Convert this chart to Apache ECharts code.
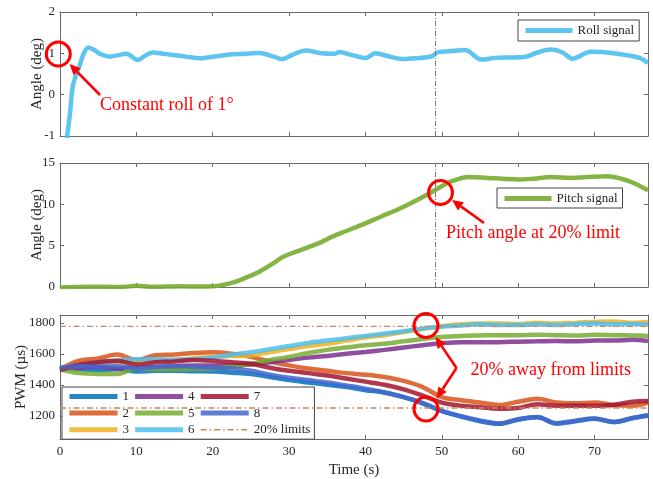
<!DOCTYPE html>
<html><head><meta charset="utf-8">
<script src="https://cdn.jsdelivr.net/npm/echarts@6/dist/echarts.min.js"></script>
<style>html,body{margin:0;padding:0;background:#fff}#c{width:653px;height:479px}</style>
</head><body><div id="c"></div>
<script>
// ---------------- DATA ----------------
const rollT = [0.9, 1.3, 1.65, 2.0, 2.6, 3.05, 3.7, 4.5, 5.2, 6.5, 7.5, 8.7, 10.2, 11.2, 12.2, 13.5, 14.8, 16.5, 18.3, 20.5, 22.6, 24.5, 26.1, 28.0, 29.1, 30.5, 32.2, 34.0, 35.9, 36.6, 38.0, 40.0, 41.3, 43.0, 44.8, 46.5, 48.7, 49.5, 51.0, 53.0, 55.2, 57.0, 59.0, 60.8, 62.5, 64.3, 65.8, 67.1, 69.5, 71.0, 73.0, 75.0, 76.0, 77.0];
const rollV = [-1.05, -0.47, 0.18, 0.42, 0.72, 0.97, 1.14, 1.08, 0.99, 0.92, 0.95, 0.99, 0.84, 0.95, 1.02, 0.99, 0.96, 0.92, 0.88, 0.93, 0.98, 0.99, 1.01, 0.92, 0.86, 0.97, 1.07, 1.01, 0.99, 1.03, 0.97, 0.89, 1.0, 0.93, 0.86, 0.88, 0.93, 1.03, 1.05, 1.08, 0.85, 0.89, 0.90, 0.91, 1.02, 1.09, 1.02, 0.87, 1.04, 1.03, 0.99, 0.93, 0.88, 0.77];

const pitchT = [0, 2, 4, 6, 8, 10, 12, 14, 16, 18, 20, 21, 22.6, 24, 26.1, 28, 29.1, 31, 33.9, 35.2, 37, 40, 42, 44.3, 46.5, 48.7, 50, 51.3, 53.5, 56, 58, 60, 62, 64.3, 67, 69, 71.7, 73.5, 74.8, 76, 77];
const pitchV = [-0.05, 0, 0.02, 0.02, 0, 0.15, 0.02, 0.05, 0.08, 0.05, 0.08, 0.2, 0.52, 1.0, 1.85, 2.9, 3.6, 4.3, 5.3, 5.9, 6.6, 7.7, 8.5, 9.4, 10.4, 11.5, 12.2, 12.8, 13.3, 13.2, 13.1, 13.0, 13.1, 13.3, 13.2, 13.3, 13.4, 13.1, 12.7, 12.2, 11.7];

const pwmT = [0, 2.5, 5, 7.5, 10, 12.5, 15, 17.5, 20, 22.5, 25, 27.5, 30, 32.5, 35, 37.5, 40, 42.5, 45, 47.5, 50, 52.5, 55, 57.5, 60, 62.5, 65, 67.5, 70, 72.5, 75, 77];
const pwm1 = [1505, 1500, 1495, 1500, 1485, 1490, 1490, 1487, 1485, 1478, 1470, 1450, 1430, 1415, 1400, 1385, 1365, 1350, 1320, 1280, 1230, 1195, 1165, 1148, 1175, 1190, 1150, 1165, 1180, 1160, 1185, 1205];
const pwm2 = [1500, 1555, 1570, 1595, 1560, 1590, 1595, 1605, 1610, 1600, 1580, 1550, 1525, 1505, 1490, 1475, 1465, 1450, 1425, 1385, 1320, 1300, 1285, 1270, 1290, 1310, 1285, 1280, 1285, 1270, 1265, 1285];
const pwm3 = [1505, 1520, 1540, 1545, 1550, 1555, 1560, 1570, 1580, 1585, 1590, 1610, 1630, 1650, 1665, 1685, 1705, 1720, 1740, 1760, 1778, 1790, 1795, 1795, 1792, 1800, 1795, 1800, 1805, 1808, 1800, 1805];
const pwm4 = [1505, 1510, 1515, 1505, 1510, 1515, 1520, 1525, 1525, 1525, 1530, 1545, 1560, 1575, 1585, 1600, 1612, 1625, 1640, 1655, 1668, 1675, 1675, 1675, 1678, 1680, 1682, 1680, 1685, 1685, 1690, 1682];
const pwm5 = [1500, 1475, 1470, 1470, 1505, 1500, 1500, 1502, 1505, 1515, 1535, 1560, 1580, 1605, 1625, 1640, 1655, 1665, 1680, 1695, 1708, 1715, 1718, 1720, 1720, 1722, 1720, 1718, 1722, 1720, 1718, 1715];
const pwm6 = [1500, 1530, 1545, 1555, 1565, 1565, 1562, 1565, 1575, 1595, 1610, 1630, 1650, 1670, 1685, 1700, 1715, 1730, 1745, 1762, 1775, 1782, 1790, 1785, 1785, 1790, 1785, 1792, 1795, 1790, 1792, 1788];
const pwm7 = [1495, 1530, 1545, 1555, 1530, 1545, 1550, 1560, 1555, 1545, 1535, 1510, 1490, 1475, 1460, 1440, 1420, 1400, 1370, 1330, 1285, 1265, 1255, 1245, 1250, 1275, 1265, 1265, 1265, 1270, 1290, 1295];
const pwm8 = [1510, 1520, 1515, 1520, 1505, 1515, 1520, 1515, 1510, 1505, 1490, 1465, 1445, 1430, 1415, 1395, 1375, 1350, 1320, 1282, 1232, 1198, 1170, 1150, 1178, 1192, 1152, 1168, 1182, 1160, 1185, 1200];
const motorNames = ['1', '2', '3', '4', '5', '6', '7', '8'];
const limitUpper = 1776;
const limitLower = 1250;
const limitName = '20% limits';
const markerTime = 49.2;

const timeTicks = [0, 10, 20, 30, 40, 50, 60, 70];
const rollTicks = [-1, 0, 1, 2];
const pitchTicks = [0, 5, 10, 15];
const pwmTicks = [1200, 1400, 1600, 1800];

// ---------------- STYLE ----------------
const FONT = '"Liberation Serif", "Times New Roman", serif';
const AX = '#6a6a6a';
const TXT = '#262626';
const motorColors = ['#0072BD', '#D95319', '#EDB120', '#7E2F8E', '#77AC30', '#4DBEEE', '#A2142F', '#4466CC'];
const rollColor = '#4DBEEE';
const pitchColor = '#77AC30';
const limitColor = '#C8865A';
const dashDot = [6, 3, 1.5, 3];

const pairs = (t, v) => t.map((x, i) => [x, v[i]]);
const plain = v => String(v);

function xAx(grid, pos, labels, name) {
  return {
    type: 'value', gridIndex: grid, position: pos, min: 0, max: 77,
    name: name || '', nameLocation: 'middle', nameGap: 24, nameMoveOverlap: false,
    nameTextStyle: { fontFamily: FONT, fontSize: 15, color: TXT },
    axisLine: { show: true, onZero: false, lineStyle: { color: AX, width: 1 } },
    axisTick: { show: true, inside: true, length: 4, customValues: timeTicks, lineStyle: { color: AX } },
    axisLabel: { show: labels, customValues: timeTicks, formatter: plain, margin: 6, fontFamily: FONT, fontSize: 13, color: TXT },
    splitLine: { show: false }
  };
}
function yAx(grid, pos, labels, min, max, ticks, name, gap) {
  return {
    type: 'value', gridIndex: grid, position: pos, min: min, max: max,
    name: name || '', nameLocation: 'middle', nameGap: gap || 15, nameMoveOverlap: false,
    nameTextStyle: { fontFamily: FONT, fontSize: 15, color: TXT },
    axisLine: { show: true, onZero: false, lineStyle: { color: AX, width: 1 } },
    axisTick: { show: true, inside: true, length: 4, customValues: ticks, lineStyle: { color: AX } },
    axisLabel: { show: labels, customValues: ticks, formatter: plain, margin: 5, fontFamily: FONT, fontSize: 13, color: TXT },
    splitLine: { show: false }
  };
}

const vMark = {
  silent: true, symbol: ['none', 'none'], label: { show: false },
  lineStyle: { color: '#7a7a7a', width: 1, type: [5, 2, 1, 2] },
  data: [{ xAxis: markerTime }]
};

const series = [];
series.push({
  name: 'Roll signal', type: 'line', xAxisIndex: 0, yAxisIndex: 0, data: pairs(rollT, rollV),
  showSymbol: false, symbol: 'none', smooth: 0.35, color: rollColor,
  lineStyle: { width: 4.5, color: rollColor, opacity: 0.9 }, markLine: vMark
});
series.push({
  name: 'Pitch signal', type: 'line', xAxisIndex: 2, yAxisIndex: 2, data: pairs(pitchT, pitchV),
  showSymbol: false, symbol: 'none', smooth: 0.35, color: pitchColor,
  lineStyle: { width: 4.5, color: pitchColor, opacity: 0.9 }, markLine: vMark
});
const pwmAll = [pwm1, pwm2, pwm3, pwm4, pwm5, pwm6, pwm7, pwm8];
pwmAll.forEach((arr, i) => {
  series.push({
    name: motorNames[i], type: 'line', xAxisIndex: 4, yAxisIndex: 4, data: pairs(pwmT, arr),
    showSymbol: false, symbol: 'none', smooth: 0.35, color: motorColors[i],
    lineStyle: { width: 4.5, color: motorColors[i], opacity: 0.85 }
  });
});
[limitUpper, limitLower].forEach(L => {
  series.push({
    name: limitName, type: 'line', xAxisIndex: 4, yAxisIndex: 4, data: [[0, L], [77, L]],
    showSymbol: false, symbol: 'none', color: limitColor, z: 5,
    lineStyle: { width: 1.3, color: limitColor, type: dashDot }
  });
});

const legBase = {
  selectedMode: false, itemWidth: 47, itemHeight: 10, itemGap: 8,
  borderColor: '#444', borderWidth: 1, backgroundColor: '#fff', borderRadius: 0,
  textStyle: { fontFamily: FONT, fontSize: 13, color: TXT, lineHeight: 12 },
  lineStyle: { width: 5 },
  itemStyle: { opacity: 0, borderWidth: 0 }
};

// annotations
const RED = '#ff0000';
function arrow(x1, y1, x2, y2) {
  const dx = x2 - x1, dy = y2 - y1, L = Math.hypot(dx, dy), ux = dx / L, uy = dy / L;
  const hl = 11, hw = 5;
  const bx = x2 - ux * hl, by = y2 - uy * hl;
  return [
    { type: 'line', z: 100, shape: { x1: x1, y1: y1, x2: bx, y2: by }, style: { stroke: RED, lineWidth: 2.6 } },
    { type: 'polygon', z: 100, shape: { points: [[x2, y2], [bx - uy * hw, by + ux * hw], [bx + uy * hw, by - ux * hw]] }, style: { fill: RED } }
  ];
}
function ring(cx, cy) {
  return { type: 'circle', z: 100, shape: { cx: cx, cy: cy, r: 12 }, style: { fill: 'none', stroke: RED, lineWidth: 3 } };
}
function label(x, y, text) {
  return { type: 'text', z: 100, style: { x: x, y: y, text: text, fill: RED, font: '18px "Liberation Serif"', align: 'left', verticalAlign: 'middle' } };
}
const graphics = [].concat(
  [ring(58.3, 54)], arrow(100, 95, 69.5, 64), [label(100, 105, 'Constant roll of 1°')],
  [ring(440.5, 192.5)], arrow(484, 223, 452, 200), [label(446, 233, 'Pitch angle at 20% limit')],
  [ring(426, 325.5), ring(426, 409)], arrow(456.5, 368, 435.5, 337), arrow(456.5, 368, 436.5, 398.5),
  [label(470.5, 370, '20% away from limits')]
);

const bottomLegendData = motorNames.map(n => ({ name: n, textStyle: { width: 12 } }))
  .concat([{ name: limitName, lineStyle: { width: 1.5 }, textStyle: { width: 60 } }]);

const option = {
  animation: false,
  backgroundColor: '#fff',
  grid: [
    { left: 60, width: 588, top: 12, height: 124 },
    { left: 60, width: 588, top: 163, height: 124 },
    { left: 60, width: 588, top: 315, height: 126 }
  ],
  xAxis: [
    xAx(0, 'bottom', false), xAx(0, 'top', false),
    xAx(1, 'bottom', false), xAx(1, 'top', false),
    xAx(2, 'bottom', true, 'Time (s)'), xAx(2, 'top', false)
  ],
  yAxis: [
    yAx(0, 'left', true, -1, 2, rollTicks, 'Angle (deg)', 15), yAx(0, 'right', false, -1, 2, rollTicks),
    yAx(1, 'left', true, 0, 15, pitchTicks, 'Angle (deg)', 15), yAx(1, 'right', false, 0, 15, pitchTicks),
    yAx(2, 'left', true, 1050, 1850, pwmTicks, 'PWM (µs)', 31), yAx(2, 'right', false, 1050, 1850, pwmTicks)
  ],
  legend: [
    Object.assign({}, legBase, { data: ['Roll signal'], left: 518, top: 20, padding: [4, 5, 4, 5] }),
    Object.assign({}, legBase, { data: ['Pitch signal'], left: 497, top: 188, padding: [4, 5, 3, 5] }),
    Object.assign({}, legBase, {
      data: bottomLegendData, orient: 'vertical', left: 62, top: 387,
      height: 50, itemWidth: 48, itemHeight: 8, itemGap: 3.6, padding: [3, 4, 3, 5],
      textStyle: { fontFamily: FONT, fontSize: 13, color: TXT }
    })
  ],
  series: series,
  graphic: { elements: graphics }
};

const chart = echarts.init(document.getElementById('c'), null, { renderer: 'canvas' });
chart.setOption(option);
</script>
</body></html>
